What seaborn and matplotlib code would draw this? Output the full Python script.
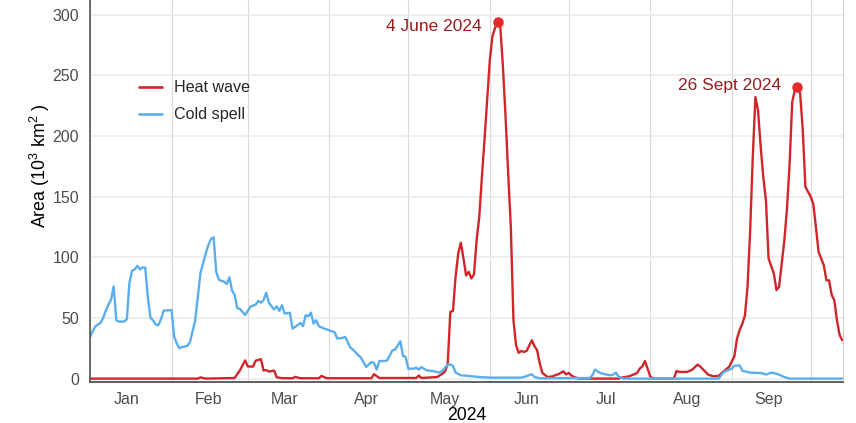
import numpy as np
import pandas as pd
import matplotlib
matplotlib.use("Agg")
import matplotlib.pyplot as plt
import matplotlib.dates as mdates
import seaborn as sns

# Daily affected area (10^3 km^2); days counted from 1 January 2024
heat_day = [0, 41, 42, 44, 55, 57, 59, 60, 62, 63, 65, 66, 67, 68, 70, 71, 73, 77, 78, 80,
            87, 88, 90, 107, 108, 110, 124, 125, 126, 132, 134, 135, 136, 137, 138, 139,
            140, 141, 142, 143, 144, 145, 146, 147, 148, 149, 150, 151, 152, 153, 154, 155,
            156, 157, 158, 159, 160, 161, 162, 163, 164, 165, 166, 168, 169, 170, 171, 172,
            174, 176, 177, 178, 180, 181, 182, 183, 184, 186, 201, 202, 205, 208, 209, 210,
            211, 212, 213, 214, 222, 223, 224, 227, 229, 231, 232, 234, 235, 237, 239, 240,
            242, 243, 244, 245, 246, 247, 248, 249, 250, 251, 252, 253, 254, 255, 256, 257,
            258, 260, 261, 262, 264, 265, 266, 267, 268, 269, 270, 271, 272, 274, 275, 276,
            277, 279, 280, 281, 282, 283, 284, 285, 286]
heat_area = [0, 0, 1, 0, 0.5, 6.8, 15, 10, 9.9, 14.8, 16, 6.6, 7.1, 5.8, 6.6, 1.1, 0.3, 0.3, 1.4, 0.3,
             0.3, 2.2, 0.3, 0.3, 3.6, 0.5, 0.5, 2.5, 0.5, 1.3, 4, 6, 12, 55, 55.7, 84,
             103, 112, 99, 85, 88, 82.5, 86, 114, 133, 166, 197, 230, 262, 282, 289, 294,
             290, 257, 216, 169, 125, 48, 27.5, 21.2, 22.8, 22, 22.8, 31.6, 26.7, 23.4, 12.4, 4.6,
             1.3, 1.9, 3, 3.5, 6, 3.5, 4.6, 2.7, 1.3, 0, 0, 0.8, 1.9, 4.6, 8.2, 10,
             14.5, 8.2, 1.9, 0, 0, 6.3, 5.5, 5.5, 7.4, 11.5, 10, 5.5, 3.3, 1.9, 2.2, 4.1,
             8, 9.6, 14, 18.4, 33, 40, 45, 52, 75.6, 122, 183, 232, 221, 191, 166, 147,
             99, 86.6, 73, 75.6, 114, 140, 177, 228, 238, 240, 235, 205, 158, 150, 144, 125,
             104.5, 93.5, 81, 81, 69, 64.6, 48, 36, 31.6]

cold_day = [0, 1, 2, 4, 5, 6, 7, 8, 9, 10, 11, 13, 14, 15, 16, 17, 18, 19, 20, 21,
            22, 23, 24, 25, 26, 27, 28, 31, 32, 33, 34, 35, 37, 38, 40, 41, 42, 44, 45, 46,
            47, 48, 49, 50, 51, 52, 53, 54, 55, 56, 57, 59, 61, 63, 64, 65, 66, 67, 68, 70,
            71, 72, 73, 74, 76, 77, 78, 80, 81, 82, 83, 84, 85, 86, 87, 89, 91, 92, 93, 94,
            96, 97, 99, 100, 102, 103, 105, 107, 108, 109, 110, 112, 113, 115, 116, 118, 119, 120,
            121, 123, 124, 125, 126, 128, 130, 133, 134, 136, 137, 138, 139, 141, 144, 148, 152,
            164, 166, 168, 169, 171, 190, 191, 192, 194, 196, 198, 199, 200, 201, 203, 239, 240,
            241, 244, 245, 247, 248, 251, 255, 256, 257, 259, 261, 264, 266, 286]
cold_area = [34, 39, 43, 46, 50, 56, 61, 65, 76, 48, 47, 47, 49, 79, 89, 90, 93, 90, 91.5, 91.5,
             67, 50, 48, 44.5, 44, 49, 56, 56.5, 34.5, 29, 25, 26, 27, 30, 48, 67.5, 87, 103, 110, 115,
             116.5, 88, 81.5, 80.5, 80, 78, 83.5, 72.5, 69, 58, 57.5, 52.4, 59.3, 61, 64, 62.5, 64.8, 70.8, 62.5, 57,
             59.6, 55.8, 60.5, 53.6, 54.2, 41.2, 42.6, 45.9, 43.2, 52.2, 51.4, 54.4, 45.4, 48.1, 43.2, 41.2, 39.8, 39, 38.2, 33,
             33.5, 34.4, 25.6, 23.9, 19.2, 17.3, 9.6, 13.7, 12.9, 7.4, 14.5, 14.5, 15.1, 23.3, 23.9, 30.8, 18.7, 17.9,
             8.2, 8.2, 9, 7.5, 9.5, 6.8, 6.3, 5, 6.5, 11.5, 11.5, 10.5, 5, 2.7, 2.2, 1.3, 0.8,
             0.8, 2, 3.6, 1.3, 0.3, 0.5, 2.7, 7.4, 4.6, 3.5, 2.7, 3.5, 4.9, 1.5, 0, 0, 2.7,
             5.5, 8.2, 10.5, 11, 6.5, 4.9, 4.6, 4.1, 3.3, 4.9, 4.1, 1.3, 0, 0]

peak_dates = ["2024-06-04", "2024-09-26"]
peak_labels = ["4 June 2024", "26 Sept 2024"]
peak_offsets = [(-11.5, -3.5), (-12, 1.2)]

series_names = ["Heat wave", "Cold spell"]
series_colors = ["#d0262a", "#5aaeec"]

start = pd.Timestamp("2024-01-01")
heat = pd.DataFrame({"date": start + pd.to_timedelta(heat_day, unit="D"),
                     "area": heat_area, "event": series_names[0]})
cold = pd.DataFrame({"date": start + pd.to_timedelta(cold_day, unit="D"),
                     "area": cold_area, "event": series_names[1]})
df = pd.concat([heat, cold], ignore_index=True)

sns.set_theme(style="white")
plt.rcParams["font.family"] = ["Liberation Sans", "DejaVu Sans"]
plt.rcParams["mathtext.default"] = "regular"

fig = plt.figure(figsize=(8.56, 4.23), dpi=100)
ax = fig.add_axes([90 / 856, 41 / 423, 753 / 856, 382 / 423])

sns.lineplot(data=df, x="date", y="area", hue="event", hue_order=series_names,
             palette=series_colors, linewidth=1.7, ax=ax, sort=True)

# Peak markers with date labels
for d, lab, off in zip(peak_dates, peak_labels, peak_offsets):
    t = pd.Timestamp(d)
    v = heat.loc[heat["date"] == t, "area"].iloc[0]
    ax.plot([t], [v], "o", color="#e8292c", markersize=6.5, zorder=5)
    ax.annotate(lab, xy=(t, v), xytext=off, textcoords="offset points",
                ha="right", va="center", fontsize=12.5, color="#9b1b1e")

ax.set_xlim(start, start + pd.Timedelta(days=286.3))
ax.set_ylim(-2.8, 312)
ax.set_yticks(np.arange(0, 301, 50))

ax.xaxis.set_major_locator(mdates.MonthLocator())
ax.xaxis.set_major_formatter(mdates.DateFormatter(""))
ax.xaxis.set_minor_locator(mdates.MonthLocator(bymonthday=15))
ax.xaxis.set_minor_formatter(mdates.DateFormatter("%b"))
ax.tick_params(axis="x", which="both", length=0, pad=7, labelsize=11.5, labelcolor="#4d4d4d")
ax.tick_params(axis="y", length=0, pad=8, labelsize=11.5, labelcolor="#4d4d4d")

ax.grid(True, axis="y", color="#e9e9e9", linewidth=1.1)
ax.grid(True, axis="x", which="major", color="#dadada", linewidth=0.8)
ax.set_axisbelow(True)

ax.spines["top"].set_visible(False)
ax.spines["left"].set_color("#555555")
ax.spines["left"].set_linewidth(1.2)
ax.spines["bottom"].set_color("#444444")
ax.spines["bottom"].set_linewidth(1.2)
ax.spines["right"].set_color("#d0d0d0")
ax.spines["right"].set_linewidth(0.8)

ax.set_xlabel("2024", fontsize=12.7, color="black", labelpad=0)
ax.set_ylabel("Area (10$^3$ km$^2$ )", fontsize=12.9, color="black")
ax.yaxis.set_label_coords(-0.051, 0.565)

leg = ax.legend(loc="upper left", bbox_to_anchor=(0.065, 0.79), frameon=False,
                fontsize=11.6, handlelength=1.43, handletextpad=0.73,
                labelspacing=0.75, borderpad=0, borderaxespad=0)
for line in leg.get_lines():
    line.set_linewidth(1.9)

fig.savefig("out.png", dpi=100)
